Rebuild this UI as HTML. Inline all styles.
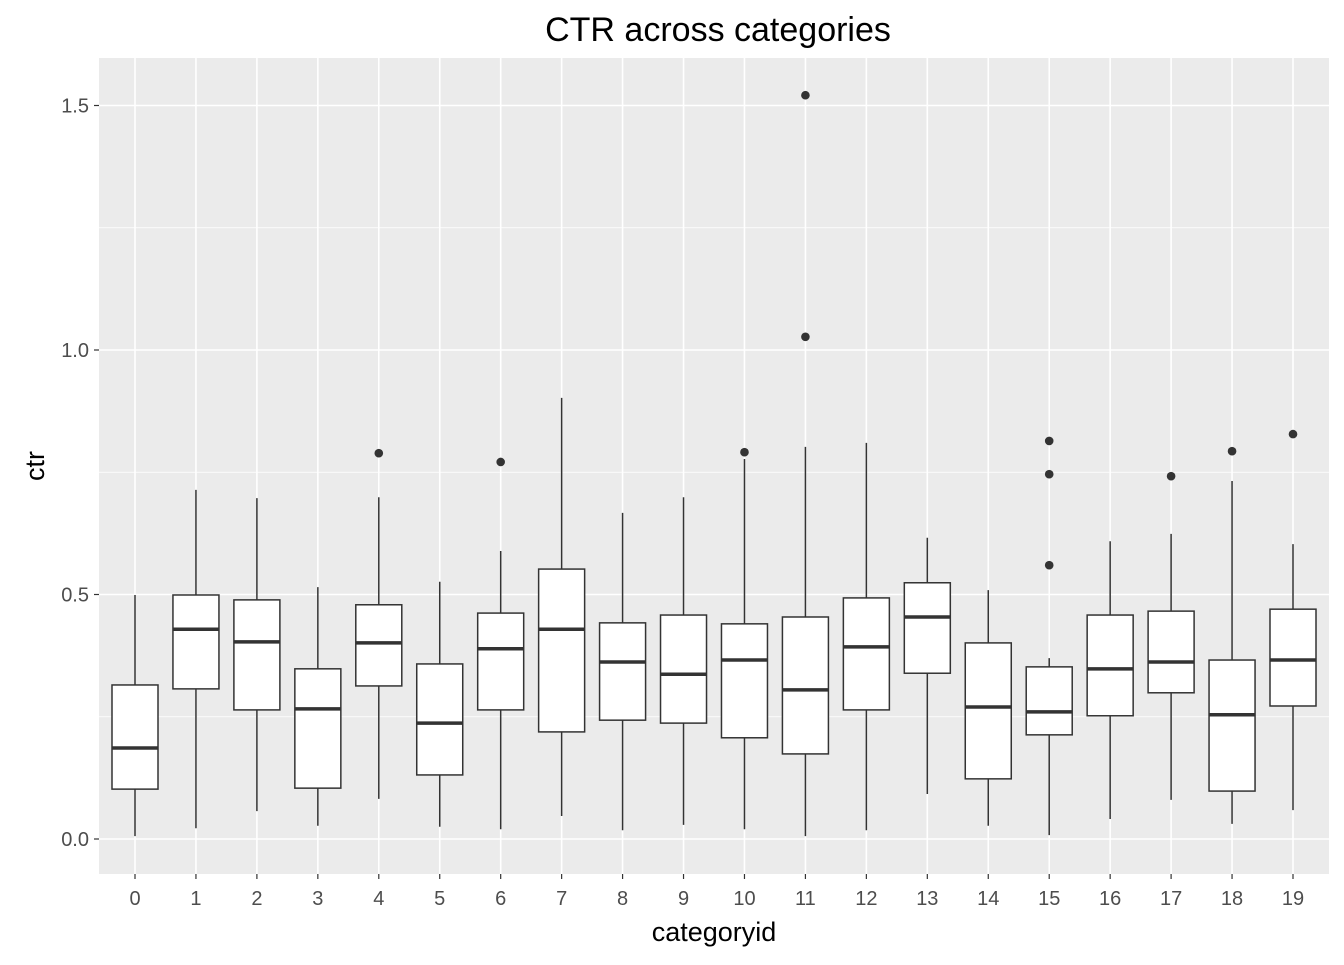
<!DOCTYPE html>
<html><head><meta charset="utf-8"><style>
body{margin:0;background:#fff;font-family:"Liberation Sans",Arial,sans-serif}
</style></head><body>
<svg id="chart" width="1344" height="960" xmlns="http://www.w3.org/2000/svg">
<rect width="1344" height="960" fill="#fff"/>
<rect id="panel" x="99" y="58" width="1230" height="816" fill="#ebebeb"/>
<g id="grid"></g><g id="boxes"></g><g id="axes"></g>
<text x="718" y="41" font-size="34" text-anchor="middle" fill="#000">CTR across categories</text>
<text x="714" y="941" font-size="27" text-anchor="middle" fill="#000">categoryid</text>
<text x="44" y="466" font-size="27" text-anchor="middle" fill="#000" transform="rotate(-90 44 466)">ctr</text>
</svg>
<script>
const categories=["0","1","2","3","4","5","6","7","8","9","10","11","12","13","14","15","16","17","18","19"];
const lowWhisker=[0.006,0.022,0.057,0.027,0.082,0.025,0.02,0.047,0.018,0.029,0.02,0.006,0.018,0.092,0.027,0.008,0.041,0.080,0.031,0.059];
const q1=[0.102,0.307,0.264,0.104,0.313,0.131,0.264,0.219,0.243,0.237,0.207,0.174,0.264,0.339,0.123,0.213,0.252,0.299,0.098,0.272];
const medians=[0.186,0.429,0.403,0.266,0.401,0.237,0.389,0.429,0.362,0.337,0.366,0.305,0.393,0.454,0.270,0.260,0.348,0.362,0.254,0.366];
const q3=[0.315,0.499,0.489,0.348,0.479,0.358,0.462,0.552,0.442,0.458,0.440,0.454,0.493,0.524,0.401,0.352,0.458,0.466,0.366,0.470];
const highWhisker=[0.499,0.714,0.697,0.515,0.699,0.526,0.589,0.902,0.667,0.699,0.777,0.802,0.810,0.616,0.509,0.370,0.609,0.624,0.732,0.603];
const outliers=[[],[],[],[],[0.789],[],[0.771],[],[],[],[0.791],[1.521,1.027],[],[],[],[0.814,0.746,0.560],[],[0.742],[0.793],[0.828]];
const yTicks=[0,0.5,1.0,1.5];
const yTickLabels=["0.0","0.5","1.0","1.5"];
const yMinor=[0.25,0.75,1.25];

const NS="http://www.w3.org/2000/svg";
const x=i=>135+i*(1293-135)/(categories.length-1);
const y=v=>839-v*489;
function mk(tag,attrs,parent){const e=document.createElementNS(NS,tag);for(const k in attrs)e.setAttribute(k,attrs[k]);document.getElementById(parent).appendChild(e);return e;}
yMinor.forEach(v=>{const l=mk("line",{x1:99,x2:1329,y1:y(v),y2:y(v),stroke:"#fff","stroke-width":0.8},"grid");

});
yTicks.forEach((v,i)=>{const l=mk("line",{x1:99,x2:1329,y1:y(v),y2:y(v),stroke:"#fff","stroke-width":1.6},"grid");


const t=mk("line",{x1:94,x2:99,y1:y(v),y2:y(v),stroke:"#333","stroke-width":1.2},"axes");


const tx=mk("text",{x:89,y:y(v)+7,"font-size":20,"text-anchor":"end",fill:"#4d4d4d"},"axes");tx.textContent=yTickLabels[i];

});
categories.forEach((c,i)=>{const cx=x(i);
const g=mk("line",{x1:cx,x2:cx,y1:58,y2:874,stroke:"#fff","stroke-width":1.6},"grid");


const t=mk("line",{x1:cx,x2:cx,y1:874,y2:879,stroke:"#333","stroke-width":1.2},"axes");


const tx=mk("text",{x:cx,y:905,"font-size":20,"text-anchor":"middle",fill:"#4d4d4d"},"axes");tx.textContent=c;


const w=mk("line",{x1:cx,x2:cx,y1:y(highWhisker[i]),y2:y(lowWhisker[i]),stroke:"#333","stroke-width":1.5},"boxes");


const hw=23;
const b=mk("rect",{x:cx-hw,y:y(q3[i]),width:2*hw,height:y(q1[i])-y(q3[i]),fill:"#fff",stroke:"#333","stroke-width":1.5},"boxes");


const m=mk("line",{x1:cx-hw,x2:cx+hw,y1:y(medians[i]),y2:y(medians[i]),stroke:"#333","stroke-width":3.5},"boxes");


outliers[i].forEach(o=>{const p=mk("circle",{cx:cx,cy:y(o),r:4.3,fill:"#333"},"boxes");

});});
</script>
</body></html>
